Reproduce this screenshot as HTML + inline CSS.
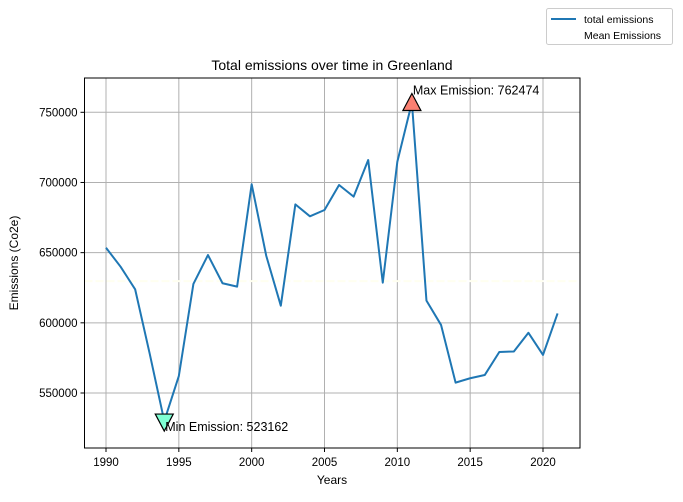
<!DOCTYPE html>
<html><head><meta charset="utf-8"><style>
body{margin:0;background:#fff;}
svg text{font-family:"Liberation Sans",Arial,sans-serif;fill:#000;}
</style></head><body>
<svg id="chart" width="683" height="497" xmlns="http://www.w3.org/2000/svg">
<rect width="683" height="497" fill="#fff"/>
<g id="grid"></g>
<g id="ticks"></g>
<line id="meanLine" stroke="#fffff0" stroke-width="2" stroke-dasharray="8,3"/>
<polyline id="series" fill="none" stroke="#1f77b4" stroke-width="2" stroke-linejoin="round"/>
<g id="markers"></g>
<rect x="84.5" y="78" width="495.5" height="370" fill="none" stroke="#000" stroke-width="1"/>
<text x="332" y="70" font-size="14" text-anchor="middle">Total emissions over time in Greenland</text>
<text x="332" y="484" font-size="12" text-anchor="middle">Years</text>
<text x="18" y="263" font-size="12" text-anchor="middle" transform="rotate(-90 18 263)">Emissions (Co2e)</text>
<g>
<rect x="546.5" y="8.5" width="126" height="36" fill="#fff" stroke="#ccc" rx="2"/>
<line x1="551" y1="19" x2="576" y2="19" stroke="#1f77b4" stroke-width="2"/>
<text x="584" y="23" font-size="10.5">total emissions</text>
<text x="584" y="39" font-size="10.5">Mean Emissions</text>
</g>
</svg>
<script>
const years=[1990,1991,1992,1993,1994,1995,1996,1997,1998,1999,2000,2001,2002,2003,2004,2005,2006,2007,2008,2009,2010,2011,2012,2013,2014,2015,2016,2017,2018,2019,2020,2021];
const emissions=[653500,640000,623900,578000,530000,562100,627700,648300,628200,625800,698700,647800,612200,684400,675900,680400,698200,689900,716000,628600,714800,757000,615800,598500,557400,560500,562800,579200,579600,592900,577100,606700];
const xTicks=[1990,1995,2000,2005,2010,2015,2020];
const yTicks=[550000,600000,650000,700000,750000];
const maxLabel=762474;
const minLabel=523162;
const NS="http://www.w3.org/2000/svg";
const L=84.5,R=580,T=78,B=448;
function xs(v){return 106+(v-1990)*(543-106)/30;}
function ys(v){return 112.3+(750000-v)*(393-112.3)/200000;}
function mk(tag,attrs,parent){const e=document.createElementNS(NS,tag);for(const k in attrs)e.setAttribute(k,attrs[k]);parent.appendChild(e);return e;}
const grid=document.getElementById('grid'),ticks=document.getElementById('ticks');
xTicks.forEach(t=>{const x=xs(t);
 const g=mk('line',{x1:x,x2:x,y1:T,y2:B,stroke:'#b0b0b0','stroke-width':1},grid);
 
 
 mk('line',{x1:x,x2:x,y1:B,y2:B+4,stroke:'#000'},ticks);
 const tx=mk('text',{x:x,y:B+18,'font-size':11.5,'text-anchor':'middle'},ticks);tx.textContent=t;
 
 
});
yTicks.forEach(t=>{const y=ys(t);
 const g=mk('line',{x1:L,x2:R,y1:y,y2:y,stroke:'#b0b0b0','stroke-width':1},grid);
 
 
 mk('line',{x1:L-4,x2:L,y1:y,y2:y,stroke:'#000'},ticks);
 const tx=mk('text',{x:L-7,y:y+4,'font-size':11.5,'text-anchor':'end'},ticks);tx.textContent=t;
 
 
});
const mean=emissions.reduce((a,b)=>a+b,0)/emissions.length;
const ml=document.getElementById('meanLine');
ml.setAttribute('x1',L);ml.setAttribute('x2',R);ml.setAttribute('y1',ys(mean));ml.setAttribute('y2',ys(mean));
document.getElementById('series').setAttribute('points',years.map((y,i)=>xs(y)+','+ys(emissions[i])).join(' '));
const m=document.getElementById('markers');
let maxI=0,minI=0;emissions.forEach((v,i)=>{if(v>emissions[maxI])maxI=i;if(v<emissions[minI])minI=i;});
const mx=xs(years[maxI]),my=ys(emissions[maxI]);
const up=mk('polygon',{points:`${mx},${my-9} ${mx-9},${my+8} ${mx+9},${my+8}`,fill:'#fa8072',stroke:'#000','stroke-width':1.2},m);


const t1=mk('text',{x:mx+1,y:my-8,'font-size':12.5},m);t1.textContent='Max Emission: '+maxLabel;


const nx=xs(years[minI]),ny=ys(emissions[minI]);
const dn=mk('polygon',{points:`${nx},${ny+10} ${nx-9},${ny-7} ${nx+9},${ny-7}`,fill:'#7fffd4',stroke:'#000','stroke-width':1.2},m);


const t2=mk('text',{x:nx+1,y:ny+10,'font-size':12.5},m);t2.textContent='Min Emission: '+minLabel;


</script>
</body></html>
